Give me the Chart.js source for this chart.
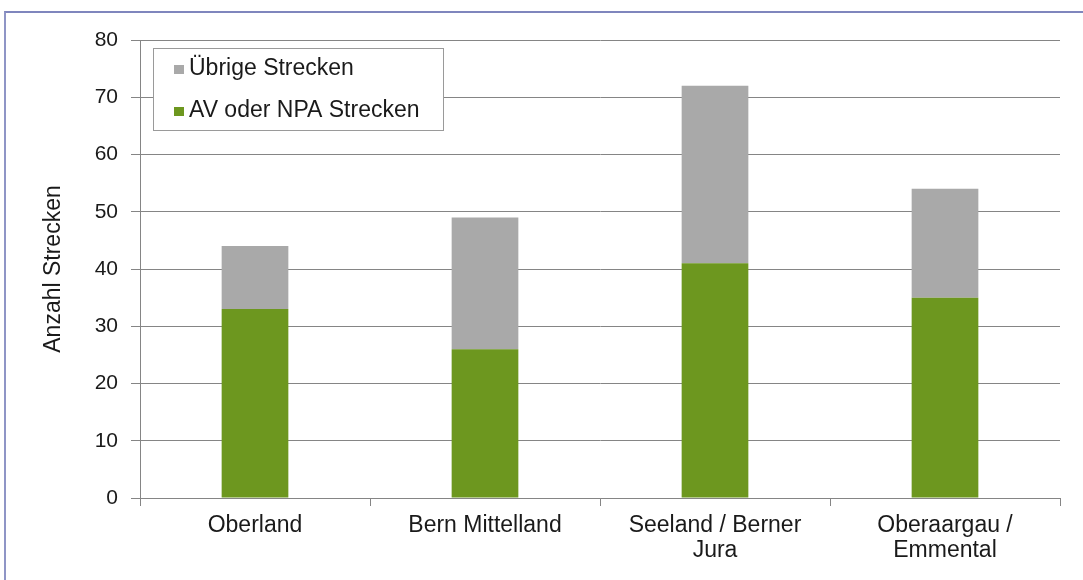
<!DOCTYPE html>
<html>
<head>
<meta charset="utf-8">
<script src="https://cdn.jsdelivr.net/npm/chart.js@4/dist/chart.umd.min.js"></script>
<style>
  body { margin: 0; background: #fff; }
  #wrap { position: relative; width: 1083px; height: 580px; }
  #frame { position: absolute; left: 4px; top: 11px; width: 1100px; height: 600px;
           border-top: 2px solid #7f86bd; border-left: 2px solid #8f95c6; pointer-events: none; }
</style>
</head>
<body>
<div id="wrap">
  <canvas id="streckenChart" width="1083" height="580"></canvas>
  <div id="frame"></div>
</div>
<script>
const regionen = [
    'Oberland',
    'Bern Mittelland',
    ['Seeland / Berner', 'Jura'],
    ['Oberaargau /', 'Emmental']
];
const avNpaStrecken = [33, 26, 41, 35];
const uebrigeStrecken = [11, 23, 31, 19];
const yTicks = [0, 10, 20, 30, 40, 50, 60, 70, 80];

const gruen = '#6d971f';
const grau = '#a9a9a9';
const linie = '#858585';

// eigene Legende mit Rahmen, oben links im Diagramm
const legendeBox = {
    id: 'legendeBox',
    beforeDatasetsDraw(chart) {
        const ctx = chart.ctx;
        const ds = chart.data.datasets.slice().reverse();
        ctx.save();
        ctx.fillStyle = '#fff';
        ctx.strokeStyle = '#9a9a9a';
        ctx.lineWidth = 1;
        ctx.fillRect(153, 48, 290, 82);
        ctx.strokeRect(153.5, 48.5, 290, 82);
        ctx.font = '23px "Liberation Sans", Arial, sans-serif';
        ctx.textBaseline = 'middle';
        ds.forEach((d, i) => {
            const y = 69 + i * 42;
            ctx.fillStyle = d.backgroundColor;
            ctx.fillRect(174, y - 4, 10, 9);
            ctx.fillStyle = '#1a1a1a';
            ctx.fillText(d.label, 189, y);
        });
        ctx.restore();
    }
};

const ctx = document.getElementById('streckenChart').getContext('2d');
const streckenChart = new Chart(ctx, {
    type: 'bar',
    data: {
        labels: regionen,
        datasets: [{
            label: 'AV oder NPA Strecken',
            data: avNpaStrecken,
            backgroundColor: gruen,
            categoryPercentage: 1,
            barPercentage: 0.29
        }, {
            label: 'Übrige Strecken',
            data: uebrigeStrecken,
            backgroundColor: grau,
            categoryPercentage: 1,
            barPercentage: 0.29
        }]
    },
    options: {
        responsive: false,
        animation: false,
        layout: {
            padding: { left: 36, top: 40, right: 23, bottom: 0 }
        },
        plugins: {
            legend: { display: false },
            tooltip: { enabled: false }
        },
        scales: {
            x: {
                stacked: true,
                grid: {
                    drawOnChartArea: false,
                    drawTicks: true,
                    tickLength: 8,
                    color: linie
                },
                border: { color: linie },
                ticks: {
                    color: '#1a1a1a',
                    padding: 8,
                    maxRotation: 0,
                    font: { family: '"Liberation Sans", Arial, sans-serif', size: 23, lineHeight: 1.05 }
                },
                afterFit(scale) { scale.height = 82; }
            },
            y: {
                stacked: true,
                min: 0,
                max: 80,
                afterBuildTicks(scale) { scale.ticks = yTicks.map(v => ({ value: v })); },
                grid: {
                    color: linie,
                    tickLength: 9
                },
                border: { color: linie },
                ticks: {
                    color: '#1a1a1a',
                    padding: 13,
                    font: { family: '"Liberation Sans", Arial, sans-serif', size: 21 }
                },
                title: {
                    display: true,
                    text: 'Anzahl Strecken',
                    color: '#1a1a1a',
                    padding: { top: 4, bottom: 4 },
                    font: { family: '"Liberation Sans", Arial, sans-serif', size: 23 }
                },
                afterFit(scale) { scale.width = 104; }
            }
        }
    },
    plugins: [legendeBox]
});
</script>
</body>
</html>
